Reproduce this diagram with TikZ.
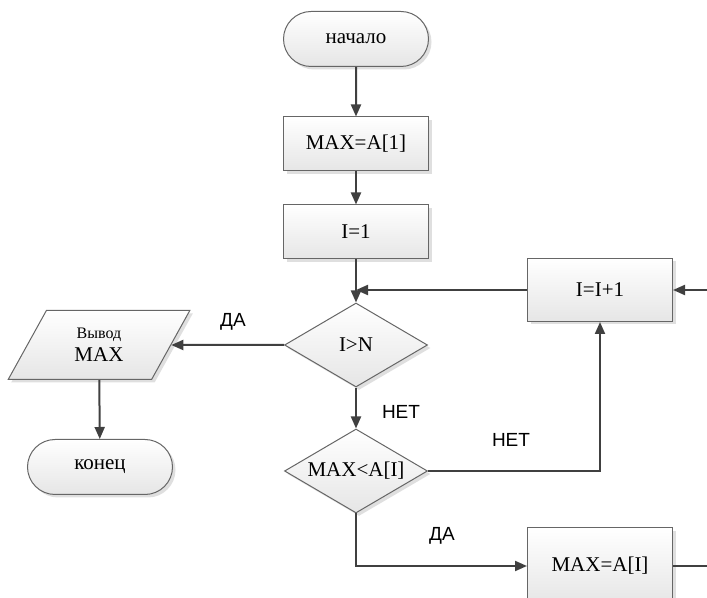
\documentclass[tikz,border=0pt]{standalone}
\usepackage{fontspec}
\setmainfont{Liberation Serif}
\newfontfamily\lblfont{Liberation Sans}
\usetikzlibrary{shapes.geometric, shapes.misc, arrows.meta, shadows}

\begin{document}
\begin{tikzpicture}[
    x=0.5pt, y=-0.5pt,
    >={Triangle[length=6pt, width=5pt]},
    % --- node styles ---
    base/.style={
        draw=black!60, line width=0.5pt,
        top color=white, bottom color=black!10,
        drop shadow={shadow xshift=1.5pt, shadow yshift=-1.5pt, fill=black!25, opacity=0.5},
        align=center, font=\fontsize{10.5}{11.5}\selectfont, inner sep=0pt
    },
    termnode/.style={base, rounded rectangle, minimum width=72.5pt, minimum height=27.5pt},
    procnode/.style={base, rectangle, minimum width=72.5pt, minimum height=#1},
    procnode/.default=27pt,
    decnode/.style={base, diamond, aspect=1.7, minimum width=71.5pt, minimum height=42pt},
    ionode/.style={base, trapezium, trapezium left angle=62, trapezium right angle=118,
        trapezium stretches=true, minimum width=91pt, minimum height=34.5pt},
    % --- arrow styles ---
    flow/.style={->, line width=1pt, color=black!75},
    plain/.style={line width=1pt, color=black!75},
    branchlbl/.style={font=\lblfont\fontsize{9.5}{10}\selectfont, inner sep=1pt},
]
\useasboundingbox (0,0) rectangle (707,598);

% ---- Nodes ----
\node[termnode] (start) at (356,39) {начало};
\node[procnode] (initmax) at (356,144) {MAX=A[1]};
\node[procnode] (initi) at (356,232) {I=1};
\node[decnode] (cmpn) at (356,345) {I>N};
\node[decnode] (cmpa) at (356,471) {MAX<A[I]};
\node[procnode=31.5pt] (inc) at (600,290) {I=I+1};
\node[procnode=38pt] (setmax) at (600,566) {MAX=A[I]};
\node[ionode] (out) at (99,345) {{\fontsize{8}{9}\selectfont Вывод}\\MAX};
\node[termnode] (stop) at (100,467) {конец};

% ---- free ends at the right edge ----
\coordinate (incin) at (707,290);
\coordinate (setout) at (707,566);

% ---- Connectors ----
\draw[flow] (start) -- (initmax);
\draw[flow] (initmax) -- (initi);
\draw[flow] (initi) -- (cmpn);
\draw[flow] (inc.west) -- (cmpn.north |- inc.west);
\draw[flow] (cmpn.west) -- (out.east);
\draw[flow] (out) -- (stop);
\draw[flow] (cmpn) -- (cmpa);
\draw[flow] (cmpa.east) -| (inc.south);
\draw[flow] (cmpa.south) |- (setmax.west);
\draw[flow] (incin) -- (inc.east);
\draw[plain] (setmax.east) -- (setout);

% ---- Branch labels ----
\node[branchlbl] (yes1) at (233,322) {ДА};
\node[branchlbl] (no1) at (401,412) {НЕТ};
\node[branchlbl] (no2) at (511,440) {НЕТ};
\node[branchlbl] (yes2) at (442,536) {ДА};

\end{tikzpicture}
\end{document}
